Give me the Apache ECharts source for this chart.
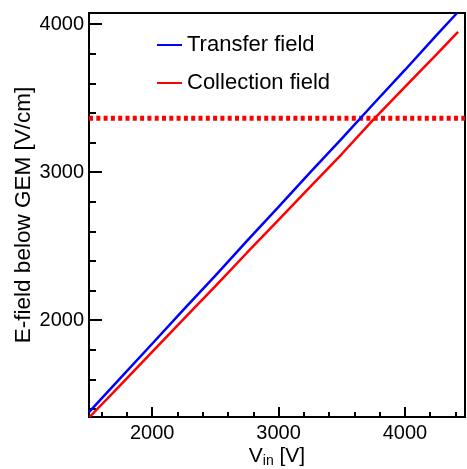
<!DOCTYPE html>
<html>
<head>
<meta charset="utf-8">
<script src="https://cdn.jsdelivr.net/npm/echarts@6/dist/echarts.min.js"></script>
<style>
  html, body { margin: 0; padding: 0; background: #fff; }
  #chart { width: 467px; height: 469px; }
</style>
</head>
<body>
<div id="chart"></div>
<script>
// Input voltage (V) and resulting field below the GEM (V/cm)
const transferV = [1500, 1750, 2000, 2250, 2500, 2750, 3000, 3250, 3500, 3750, 4000, 4250, 4412];
const transferE = [1378, 1610, 1840, 2072, 2300, 2535, 2765, 2998, 3226, 3460, 3690, 3925, 4075];
const collectionV = [1505, 1750, 2000, 2250, 2500, 2750, 3000, 3250, 3500, 3750, 4000, 4250, 4420];
const collectionE = [1345, 1562, 1785, 2008, 2230, 2455, 2677, 2900, 3122, 3355, 3575, 3795, 3947];

// Horizontal reference level (V/cm)
const referenceLevel = 3363;

// Axis ranges and ticks
const xRange = [1500, 4475];
const yRange = [1345, 4075];
const xMajor = [2000, 3000, 4000];
const xMinor = [1600, 1800, 2200, 2400, 2600, 2800, 3200, 3400, 3600, 3800, 4200, 4400];
const yMajor = [2000, 3000, 4000];
const yMinor = [1400, 1600, 1800, 2200, 2400, 2600, 2800, 3200, 3400, 3600, 3800];

const FONT = '"Liberation Sans", Arial, Helvetica, sans-serif';

const pairs = (xs, ys) => xs.map((x, i) => [x, ys[i]]);
const plain = v => String(v);

const chart = echarts.init(document.getElementById('chart'), null, { renderer: 'canvas' });

chart.setOption({
  animation: false,
  backgroundColor: '#fff',
  grid: {
    left: 89, top: 13, right: 2, bottom: 52,
    outerBoundsMode: 'none', containLabel: false,
    show: true, borderColor: '#000', borderWidth: 2, backgroundColor: 'transparent'
  },
  legend: {
    left: 152, top: 29,
    orient: 'vertical',
    icon: 'rect',
    itemWidth: 25, itemHeight: 2,
    itemGap: 16,
    textStyle: { fontFamily: FONT, fontSize: 22, color: '#000', lineHeight: 22 },
    data: ['Transfer field', 'Collection field']
  },
  xAxis: [
    {
      type: 'value', min: xRange[0], max: xRange[1],
      name: 'V{sub|in} [V]',
      nameLocation: 'middle', nameGap: 28, nameMoveOverlap: false,
      nameTextStyle: {
        fontFamily: FONT, fontSize: 21, color: '#000', lineHeight: 22,
        rich: { sub: { fontFamily: FONT, fontSize: 14, color: '#000', lineHeight: 14, padding: [10, 0, 0, 0] } }
      },
      axisLine: { show: false },
      splitLine: { show: false },
      axisTick: { inside: true, length: 10, customValues: xMajor, lineStyle: { color: '#000', width: 2 } },
      axisLabel: { customValues: xMajor, formatter: plain, margin: 6, fontFamily: FONT, fontSize: 20, color: '#000' }
    },
    {
      type: 'value', min: xRange[0], max: xRange[1], position: 'bottom',
      axisLine: { show: false }, splitLine: { show: false }, axisLabel: { show: false },
      axisTick: { inside: true, length: 5, customValues: xMinor, lineStyle: { color: '#000', width: 2 } }
    }
  ],
  yAxis: [
    {
      type: 'value', min: yRange[0], max: yRange[1],
      name: 'E-field below GEM [V/cm]',
      nameLocation: 'middle', nameGap: 54, nameMoveOverlap: false,
      nameTextStyle: { fontFamily: FONT, fontSize: 22.5, color: '#000' },
      axisLine: { show: false },
      splitLine: { show: false },
      axisTick: { inside: true, length: 13, customValues: yMajor, lineStyle: { color: '#000', width: 2 } },
      axisLabel: { customValues: yMajor, formatter: plain, margin: 5, fontFamily: FONT, fontSize: 20, color: '#000' }
    },
    {
      type: 'value', min: yRange[0], max: yRange[1], position: 'left',
      axisLine: { show: false }, splitLine: { show: false }, axisLabel: { show: false },
      axisTick: { inside: true, length: 7, customValues: yMinor, lineStyle: { color: '#000', width: 2 } }
    }
  ],
  series: [
    {
      name: 'Reference level', type: 'line', z: 1,
      data: [[xRange[0], referenceLevel], [xRange[1], referenceLevel]],
      showSymbol: false, silent: true,
      lineStyle: { color: '#ff0000', width: 5, type: [4, 3.3] }
    },
    {
      name: 'Transfer field', type: 'line', z: 3,
      data: pairs(transferV, transferE),
      showSymbol: false, clip: true,
      itemStyle: { color: '#0000ff' },
      lineStyle: { color: '#0000ff', width: 2.5 }
    },
    {
      name: 'Collection field', type: 'line', z: 2,
      data: pairs(collectionV, collectionE),
      showSymbol: false, clip: true,
      itemStyle: { color: '#ff0000' },
      lineStyle: { color: '#ff0000', width: 2.5 }
    }
  ]
});
</script>
</body>
</html>
